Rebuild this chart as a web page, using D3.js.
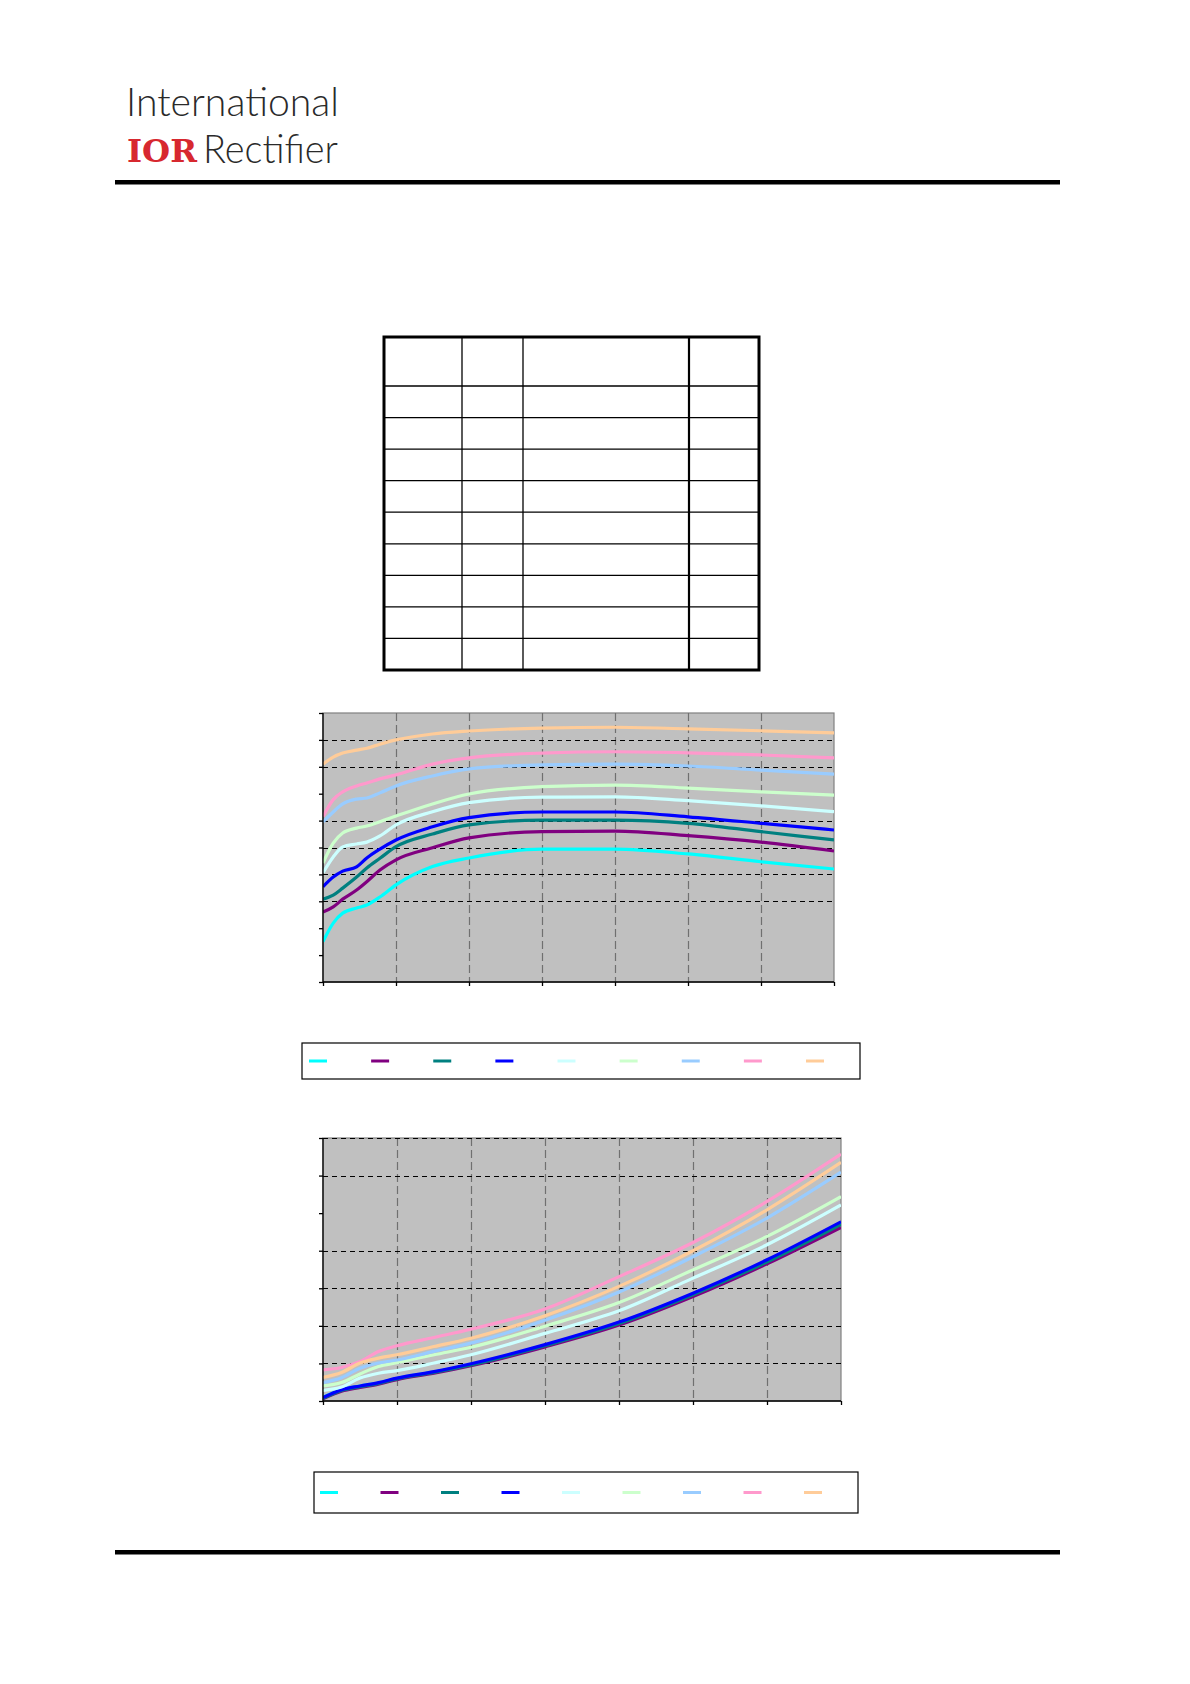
<!DOCTYPE html>
<html>
<head>
<meta charset="utf-8">
<script src="https://cdn.jsdelivr.net/npm/d3@7"></script>
<style>
  html, body { margin: 0; padding: 0; background: #fff; }
  svg { display: block; }
</style>
</head>
<body>
<svg id="page" width="1190" height="1684"></svg>
<script>
// ---------------- DATA ----------------
const seriesColors = ["#00FFFF", "#800080", "#008080", "#0000FF", "#CCFFFF", "#CCFFCC", "#99CCFF", "#FF99CC", "#FFCC99"];

// Chart 1 (upper)
const chart1X = [0, 0.14, 0.27, 0.46, 0.6, 0.78, 1, 1.5, 2, 3, 4, 5, 6, 7];
const chart1Cyan       = [1.50, 2.19, 2.56, 2.75, 2.86, 3.16, 3.61, 4.29, 4.61, 4.94, 4.94, 4.76, 4.47, 4.20];
const chart1Purple     = [2.60, 2.79, 3.08, 3.42, 3.73, 4.16, 4.54, 4.99, 5.36, 5.59, 5.61, 5.44, 5.20, 4.87];
const chart1Teal       = [3.08, 3.23, 3.49, 3.90, 4.24, 4.60, 5.03, 5.50, 5.84, 6.02, 6.02, 5.90, 5.59, 5.28];
const chart1Blue       = [3.54, 3.90, 4.12, 4.28, 4.61, 4.94, 5.28, 5.77, 6.11, 6.32, 6.32, 6.14, 5.90, 5.65];
const chart1LightCyan  = [4.06, 4.65, 5.02, 5.13, 5.20, 5.43, 5.84, 6.33, 6.67, 6.87, 6.88, 6.74, 6.55, 6.33];
const chart1LightGreen = [4.42, 5.16, 5.54, 5.72, 5.80, 5.96, 6.17, 6.62, 6.99, 7.26, 7.32, 7.21, 7.07, 6.95];
const chart1LightBlue  = [5.95, 6.32, 6.62, 6.80, 6.84, 7.03, 7.29, 7.66, 7.92, 8.07, 8.10, 8.03, 7.88, 7.73];
const chart1Pink       = [6.15, 6.78, 7.07, 7.29, 7.40, 7.55, 7.70, 8.10, 8.33, 8.51, 8.56, 8.52, 8.44, 8.33];
const chart1Peach      = [8.10, 8.36, 8.51, 8.62, 8.69, 8.84, 9.00, 9.22, 9.33, 9.44, 9.47, 9.41, 9.34, 9.26];
const chart1YTicks = [0, 1, 2, 3, 4, 5, 6, 7, 8, 9, 10];
const chart1YGrid  = [9, 8, 6, 5, 4, 3];
const chart1XTicks = [0, 1, 2, 3, 4, 5, 6, 7];
const chart1XGrid  = [1, 2, 3, 4, 5, 6];

// Chart 2 (lower)
const chart2X = [0, 0.25, 0.5, 0.75, 1, 1.5, 2, 3, 4, 5, 6, 7];
const chart2Cyan       = [0.10, 0.30, 0.40, 0.48, 0.60, 0.77, 0.97, 1.48, 2.08, 2.85, 3.73, 4.74];
const chart2Purple     = [0.06, 0.26, 0.36, 0.45, 0.57, 0.74, 0.94, 1.44, 2.02, 2.78, 3.65, 4.62];
const chart2Teal       = [0.07, 0.28, 0.38, 0.47, 0.59, 0.76, 0.96, 1.47, 2.06, 2.83, 3.70, 4.70];
const chart2Blue       = [0.09, 0.30, 0.40, 0.49, 0.61, 0.78, 0.99, 1.50, 2.10, 2.87, 3.76, 4.77];
const chart2LightCyan  = [0.28, 0.37, 0.61, 0.74, 0.81, 1.01, 1.23, 1.80, 2.40, 3.27, 4.16, 5.22];
const chart2LightGreen = [0.40, 0.49, 0.72, 0.92, 1.02, 1.23, 1.43, 1.99, 2.62, 3.49, 4.38, 5.44];
const chart2LightBlue  = [0.49, 0.62, 0.87, 1.01, 1.09, 1.32, 1.54, 2.15, 2.90, 3.84, 4.87, 6.09];
const chart2Pink       = [0.83, 0.89, 1.05, 1.32, 1.47, 1.69, 1.91, 2.45, 3.31, 4.22, 5.31, 6.57];
const chart2Peach      = [0.63, 0.76, 1.01, 1.14, 1.23, 1.45, 1.67, 2.27, 3.05, 4.00, 5.09, 6.35];
const chart2YTicks = [0, 1, 2, 3, 4, 5, 6, 7];
const chart2YGrid  = [7, 6, 4, 3, 2, 1];
const chart2XTicks = [0, 1, 2, 3, 4, 5, 6, 7];
const chart2XGrid  = [1, 2, 3, 4, 5, 6];

// Table (empty cells in the reference)
const tableRows = 10;
const tableCols = 4;

// ---------------- DRAW ----------------
const svg = d3.select("#page");
svg.append("rect").attr("width", 1190).attr("height", 1684).attr("fill", "#fff");

// Logo
const logo = svg.append("g");
logo.append("text").attr("x", 126).attr("y", 116)
  .attr("font-family", "Lato, 'Open Sans', sans-serif").attr("font-weight", 300)
  .attr("font-size", 39).attr("fill", "#2a2a2a")
  .attr("textLength", 213).attr("lengthAdjust", "spacingAndGlyphs")
  .text("International");
logo.append("text").attr("x", 127).attr("y", 162)
  .attr("font-family", "'DejaVu Serif', 'Liberation Serif', serif").attr("font-weight", "bold")
  .attr("font-size", 31).attr("fill", "#d7282f")
  .attr("textLength", 70).attr("lengthAdjust", "spacingAndGlyphs")
  .text("IOR");
logo.append("text").attr("x", 203).attr("y", 163)
  .attr("font-family", "Lato, 'Open Sans', sans-serif").attr("font-weight", 300)
  .attr("font-size", 39).attr("fill", "#2a2a2a")
  .attr("textLength", 135).attr("lengthAdjust", "spacingAndGlyphs")
  .text("Rectifier");

// Header / footer rules
svg.append("rect").attr("x", 115).attr("y", 180).attr("width", 945).attr("height", 4.5).attr("fill", "#000");
svg.append("rect").attr("x", 115).attr("y", 1550).attr("width", 945).attr("height", 4.5).attr("fill", "#000");

// Table
(function drawTable() {
  const g = svg.append("g");
  const colX = [384, 462, 523, 689, 759];
  const rowY = d3.scaleLinear().domain([1, tableRows]).range([386, 670]);
  const rowsY = [337].concat(d3.range(1, tableRows + 1).map(i => rowY(i)));
  for (let i = 1; i < rowsY.length - 1; i++) {
    g.append("line").attr("x1", colX[0]).attr("x2", colX[tableCols])
      .attr("y1", rowsY[i]).attr("y2", rowsY[i]).attr("stroke", "#000").attr("stroke-width", 1.3);
  }
  for (let j = 1; j < tableCols; j++) {
    g.append("line").attr("x1", colX[j]).attr("x2", colX[j])
      .attr("y1", rowsY[0]).attr("y2", rowsY[rowsY.length - 1])
      .attr("stroke", "#000").attr("stroke-width", j === 3 ? 2.2 : 1.3);
  }
  g.append("rect").attr("x", colX[0]).attr("y", rowsY[0])
    .attr("width", colX[tableCols] - colX[0]).attr("height", rowsY[rowsY.length - 1] - rowsY[0])
    .attr("fill", "none").attr("stroke", "#000").attr("stroke-width", 3);
})();

function drawChart(cfg) {
  const g = svg.append("g");
  const x = d3.scaleLinear().domain([0, 7]).range([cfg.left, cfg.right]);
  const y = d3.scaleLinear().domain([0, cfg.yMax]).range([cfg.bottom, cfg.top]);

  g.append("rect").attr("x", cfg.left).attr("y", cfg.top)
    .attr("width", cfg.right - cfg.left).attr("height", cfg.bottom - cfg.top)
    .attr("fill", "#C0C0C0").attr("stroke", "#808080").attr("stroke-width", 1.2);

  g.selectAll(".vg").data(cfg.xGrid).join("line")
    .attr("x1", d => Math.round(x(d)) + 0.5).attr("x2", d => Math.round(x(d)) + 0.5)
    .attr("y1", cfg.top).attr("y2", cfg.bottom)
    .attr("stroke", "#707070").attr("stroke-width", 1.2).attr("stroke-dasharray", "8,4");
  g.selectAll(".hg").data(cfg.yGrid).join("line")
    .attr("x1", cfg.left).attr("x2", cfg.right)
    .attr("y1", d => Math.round(y(d)) + 0.5).attr("y2", d => Math.round(y(d)) + 0.5)
    .attr("stroke", "#000").attr("stroke-width", 1.2).attr("stroke-dasharray", "5,4");

  const clipId = "clip" + cfg.id;
  svg.append("defs").append("clipPath").attr("id", clipId)
    .append("rect").attr("x", cfg.left).attr("y", cfg.top - 2)
    .attr("width", cfg.right - cfg.left).attr("height", cfg.bottom - cfg.top + 2);

  const line = d3.line().x(d => x(d[0])).y(d => y(d[1])).curve(d3.curveMonotoneX);
  const lg = g.append("g").attr("clip-path", `url(#${clipId})`);
  cfg.series.forEach((vals, i) => {
    lg.append("path").datum(cfg.xs.map((xv, k) => [xv, vals[k]]))
      .attr("d", line).attr("fill", "none")
      .attr("stroke", seriesColors[i]).attr("stroke-width", 3.2)
      .attr("stroke-linejoin", "round").attr("stroke-linecap", "butt");
  });

  const yAxis = d3.axisLeft(y).tickValues(cfg.yTicks).tickSize(4).tickFormat(() => "");
  const ya = g.append("g").attr("transform", `translate(${cfg.left},0)`).call(yAxis);
  ya.select(".domain").attr("stroke", "#000").attr("stroke-width", 1.3).attr("d", `M0,${cfg.top}V${cfg.bottom}`);
  ya.selectAll(".tick line").attr("stroke", "#000").attr("stroke-width", 1.3);

  const xAxis = d3.axisBottom(x).tickValues(cfg.xTicks).tickSize(4).tickFormat(() => "");
  const xa = g.append("g").attr("transform", `translate(0,${cfg.bottom})`).call(xAxis);
  xa.select(".domain").attr("stroke", "#000").attr("stroke-width", 1.3).attr("d", `M${cfg.left},0H${cfg.right}`);
  xa.selectAll(".tick line").attr("stroke", "#000").attr("stroke-width", 1.3);

  const L = cfg.legend;
  const lgd = svg.append("g");
  lgd.append("rect").attr("x", L.x).attr("y", L.y).attr("width", L.w).attr("height", L.h)
    .attr("fill", "#fff").attr("stroke", "#000").attr("stroke-width", 1.2);
  const lx = d3.scaleLinear().domain([0, 8]).range([L.first, L.last]);
  seriesColors.forEach((c, i) => {
    lgd.append("line").attr("x1", lx(i)).attr("x2", lx(i) + 18)
      .attr("y1", L.y + L.h / 2).attr("y2", L.y + L.h / 2)
      .attr("stroke", c).attr("stroke-width", 3);
  });
}

drawChart({
  id: 1, left: 323, right: 834, top: 713, bottom: 982, yMax: 10,
  xs: chart1X,
  series: [chart1Cyan, chart1Purple, chart1Teal, chart1Blue, chart1LightCyan, chart1LightGreen, chart1LightBlue, chart1Pink, chart1Peach],
  yTicks: chart1YTicks, yGrid: chart1YGrid, xTicks: chart1XTicks, xGrid: chart1XGrid,
  legend: { x: 302, y: 1043, w: 558, h: 36, first: 309, last: 806 }
});

drawChart({
  id: 2, left: 323, right: 841, top: 1138, bottom: 1401, yMax: 7,
  xs: chart2X,
  series: [chart2Cyan, chart2Purple, chart2Teal, chart2Blue, chart2LightCyan, chart2LightGreen, chart2LightBlue, chart2Pink, chart2Peach],
  yTicks: chart2YTicks, yGrid: chart2YGrid, xTicks: chart2XTicks, xGrid: chart2XGrid,
  legend: { x: 314, y: 1472, w: 544, h: 41, first: 320, last: 804 }
});
</script>
</body>
</html>
